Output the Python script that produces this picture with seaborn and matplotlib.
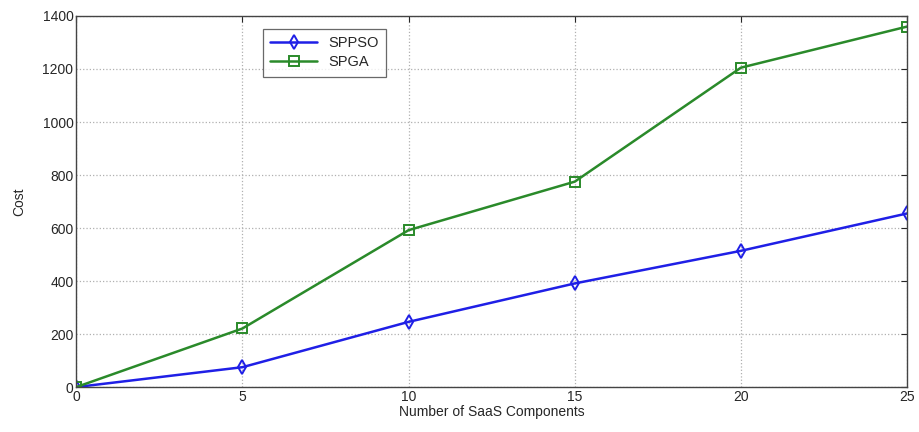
import pandas as pd
import matplotlib.pyplot as plt
import seaborn as sns

# dados
componentes = [0, 5, 10, 15, 20, 25]
custo_sppso = [0, 75, 246, 391, 514, 655]
custo_spga = [0, 221, 592, 775, 1205, 1360]

df = pd.DataFrame({
    'comp': componentes * 2,
    'custo': custo_sppso + custo_spga,
    'metodo': ['SPPSO'] * len(componentes) + ['SPGA'] * len(componentes),
})

sns.set_style("white")
plt.rcParams['font.family'] = ['Liberation Sans', 'DejaVu Sans']

fig = plt.figure(figsize=(9.19, 4.32), dpi=100)
ax = fig.add_axes([0.083, 0.104, 0.904, 0.859])

sns.lineplot(data=df, x='comp', y='custo', hue='metodo', style='metodo',
             palette={'SPPSO': '#1f1fe6', 'SPGA': '#2a8a2a'},
             markers={'SPPSO': 'd', 'SPGA': 's'}, dashes=False,
             markersize=7, markerfacecolor='none', markeredgewidth=1.4,
             linewidth=1.8, ax=ax)

# marcadores vazados com a cor da linha
for line in ax.get_lines():
    line.set_markeredgecolor(line.get_color())
    line.set_markerfacecolor('none')

ax.set_xlim(0, 25)
ax.set_ylim(0, 1400)
ax.set_xticks(componentes)
ax.set_yticks(range(0, 1401, 200))
ax.grid(True, linestyle=':', color='#b0b0b0', linewidth=0.9)
ax.tick_params(direction='in', length=4, labelsize=10, top=True, right=True,
               labeltop=False, labelright=False, pad=2)
for s in ax.spines.values():
    s.set_color('#444444')
    s.set_linewidth(1.0)

ax.set_xlabel('Number of SaaS Components', fontsize=10, labelpad=1)
ax.set_ylabel('Cost', fontsize=10, labelpad=12)

leg = ax.legend(loc='upper left', bbox_to_anchor=(0.216, 0.985), fontsize=10.5,
                frameon=True, fancybox=False, edgecolor='#444444',
                handlelength=3.2, borderpad=0.5, labelspacing=0.35)
leg.get_frame().set_linewidth(0.9)
for h in leg.legend_handles:
    h.set_markerfacecolor('none')

plt.savefig('out.png', dpi=100)
